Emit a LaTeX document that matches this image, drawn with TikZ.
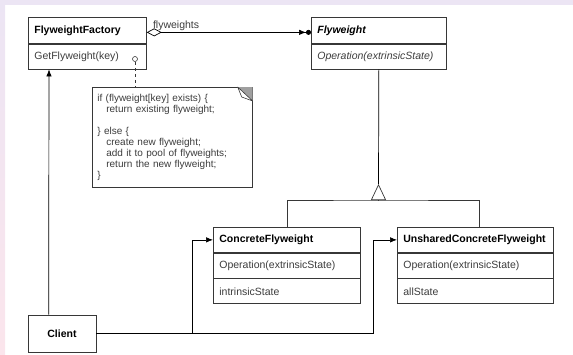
\documentclass[tikz,border=0pt]{standalone}
\usepackage{fontspec}
\setmainfont{Liberation Sans}
\usetikzlibrary{positioning, arrows.meta}

\definecolor{edgegray}{RGB}{55,55,55}
\definecolor{textgray}{RGB}{60,60,60}
\definecolor{bandlilac}{RGB}{236,229,244}
\definecolor{bandpink}{RGB}{251,229,236}

\tikzset{
    classhead/.style={draw=edgegray, line width=0.7pt, minimum height=26pt,
        inner xsep=6pt, text width=#1, align=left,
        font=\fontsize{10.5}{12}\selectfont\bfseries},
    classrow/.style={draw=edgegray, line width=0.7pt, minimum height=25pt,
        inner xsep=6pt, text width=#1, align=left, text=textgray,
        font=\fontsize{10.5}{12}\selectfont},
    notebox/.style={draw=edgegray, line width=0.7pt, minimum height=100pt,
        inner xsep=5pt, text width=150pt, align=left, text=textgray,
        font=\fontsize{10}{11}\selectfont},
    tip/.style={-{Latex[length=7pt, width=5.5pt]}},
}

\begin{document}
\begin{tikzpicture}[x=1pt, y=-1pt]
    \useasboundingbox (0,0) rectangle (573,354);
    \fill[bandlilac] (0,0) rectangle (573,5);
    \shade[top color=bandlilac, bottom color=bandpink] (0,0) rectangle (5,354);

    % classes
    \node[classhead=106pt, anchor=north west] (fact) at (28,17) {FlyweightFactory};
    \node[classrow=106pt, below=0pt of fact] (factop) {GetFlyweight(key)};

    \node[classhead=123pt, anchor=north west, font=\fontsize{10.5}{12}\selectfont\bfseries\itshape] (fw) at (311,17) {Flyweight};
    \node[classrow=123pt, below=0pt of fw, font=\fontsize{10.5}{12}\selectfont\itshape] (fwop) {Operation(extrinsicState)};

    \node[classhead=135pt, anchor=north west, minimum height=25pt] (conc) at (213,227) {ConcreteFlyweight};
    \node[classrow=135pt, below=0pt of conc] (concop) {Operation(extrinsicState)};
    \node[classrow=135pt, below=0pt of concop] (concst) {intrinsicState};

    \node[classhead=144pt, anchor=north west, minimum height=25pt] (unsh) at (397,227) {UnsharedConcreteFlyweight};
    \node[classrow=144pt, below=0pt of unsh] (unshop) {Operation(extrinsicState)};
    \node[classrow=144pt, below=0pt of unshop] (unshst) {allState};

    \node[draw=edgegray, line width=0.7pt, minimum width=68pt, minimum height=37pt,
        font=\fontsize{10.5}{12}\selectfont\bfseries] (client) at (62,333.5) {Client};

    % note with folded corner
    \node[notebox, anchor=north west] (note) at (92,87) {if (flyweight[key] exists) \{\\
        \hspace*{9pt}return existing flyweight;\\
        \mbox{}\\
        \} else \{\\
        \hspace*{9pt}create new flyweight;\\
        \hspace*{9pt}add it to pool of flyweights;\\
        \hspace*{9pt}return the new flyweight;\\
        \}};
    \fill[gray!75] ([xshift=-15pt]note.north east) -- (note.north east) -- ([yshift=-14pt]note.north east) -- cycle;
    \draw[edgegray, fill=white, line width=0.6pt, line join=round] ([xshift=-15pt]note.north east)
        -- ([yshift=-14pt]note.north east) -- ([xshift=-11pt, yshift=-10pt]note.north east) -- cycle;

    \node[circle, draw=edgegray, line width=0.6pt, inner sep=0pt, minimum size=5pt] (hook) at (135,59) {};
    \draw[edgegray, dashed, line width=0.6pt] (hook.south) -- (hook.south |- note.north);

    % aggregation
    \draw[line width=0.7pt, {Diamond[open, length=15pt, width=8pt]}-{Latex[length=7pt, width=5.5pt] Circle[length=5pt]}]
        ([yshift=-2pt]fact.east) -- ([yshift=-2pt]fw.west)
        node[pos=0, anchor=south west, xshift=5pt, inner sep=1pt, font=\fontsize{10.5}{12}\selectfont, text=textgray] {flyweights};

    % inheritance
    \coordinate (apex) at (378.5,184);
    \coordinate (base) at (378.5,200);
    \draw[line width=0.7pt] (fwop.south) -- (apex);
    \draw[edgegray, line width=0.7pt, -{Triangle[open, length=16pt, width=15pt]}] (base) -- (apex);
    \draw[edgegray, line width=0.7pt] (conc.north) |- (base) -| ([xshift=4pt]unsh.north);

    % client references
    \draw[line width=0.7pt, tip] ([xshift=21pt]client.north west) -- ([xshift=21pt]factop.south west);
    \draw[line width=0.7pt, tip] (client.east) -| ([xshift=-21pt]conc.west) -- (conc.west);
    \draw[line width=0.7pt, tip] (client.east) -| ([xshift=-24pt]unsh.west) -- (unsh.west);
\end{tikzpicture}
\end{document}
